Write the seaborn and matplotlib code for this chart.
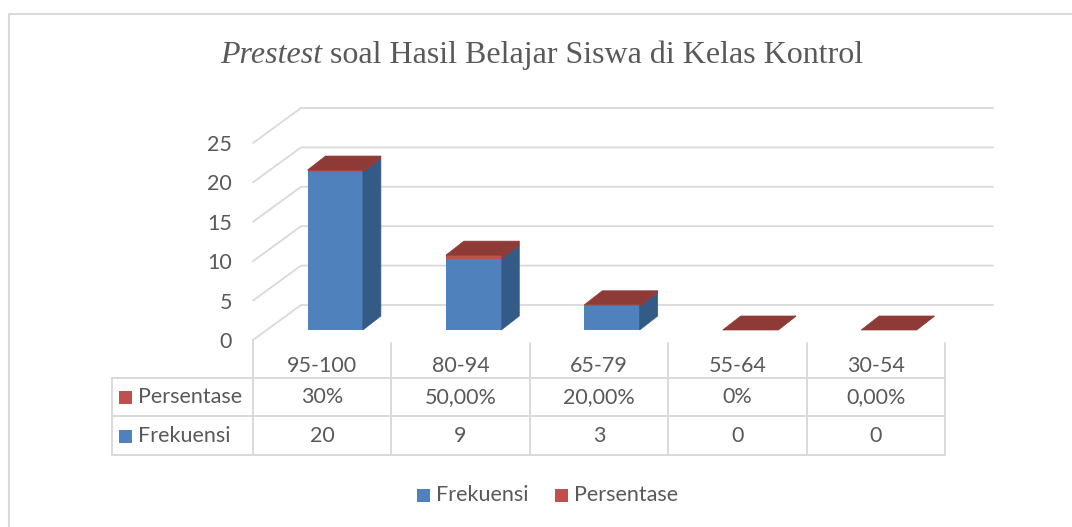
import numpy as np
import pandas as pd
import matplotlib
matplotlib.use("Agg")
import matplotlib.pyplot as plt
import matplotlib.transforms as mtransforms
from matplotlib.patches import Polygon, Rectangle
from matplotlib.lines import Line2D
import seaborn as sns


rentang = ["95-100", "80-94", "65-79", "55-64", "30-54"]
frekuensi = [20, 9, 3, 0, 0]
persentase = [0.30, 0.50, 0.20, 0.0, 0.0]
persentase_label = ["30%", "50,00%", "20,00%", "0%", "0,00%"]
y_ticks = [0, 5, 10, 15, 20, 25]

BLUE = "#4F81BD"
BLUE_SIDE = "#345A86"
RED = "#C0504D"
RED_TOP = "#8E3A37"
GRID = "#D9D9D9"
TXT = "#595959"

W, H, DPI = 1072, 527, 100

sns.set_style("white")
plt.rcParams["font.family"] = ["Lato", "DejaVu Sans"]


def fig_xy(x, y):
    # pixel (from top-left) -> figure fraction
    return x / W, 1 - y / H


fig = plt.figure(figsize=(W / DPI, H / DPI), dpi=DPI)
ax = fig.add_axes([253 / W, 187 / H, (945 - 253) / W, 197 / H])

df = pd.DataFrame({"Rentang": rentang, "Frekuensi": frekuensi,
                   "Total": np.array(frekuensi) + np.array(persentase)})
sns.barplot(data=df, x="Rentang", y="Total", color=RED, saturation=1, width=0.4,
            linewidth=0, ax=ax, zorder=3)
sns.barplot(data=df, x="Rentang", y="Frekuensi", color=BLUE, saturation=1, width=0.4,
            linewidth=0, ax=ax, zorder=3)

fs = 15.5
ax.set_xlim(-0.5, len(rentang) - 0.5)
ax.set_ylim(0, 25)
ax.set_xlabel("")
ax.set_ylabel("")
ax.set_xticks([])
ax.set_yticks(y_ticks)
ax.tick_params(axis="y", length=0, pad=15, labelsize=fs, labelcolor=TXT)
for s in ax.spines.values():
    s.set_visible(False)
ax.set_facecolor("none")

to_fig = fig.transFigure.inverted()

# back wall grid + left wall diagonals (depth offset in px), behind the axes
depth = np.array([48, 35])
for v in y_ticks:
    p0 = ax.transData.transform((-0.5, v))
    p1 = p0 + depth
    p2 = ax.transData.transform((len(rentang) - 0.5, v)) + depth
    pts = to_fig.transform(np.array([p0, p1, p2]))
    fig.add_artist(Line2D(pts[:, 0], pts[:, 1], color=GRID, lw=1.3, zorder=-1))

# shift the bars into the middle of the depth, then add side / top faces
shift = mtransforms.ScaledTranslation(13 / DPI, 10 / DPI, fig.dpi_scale_trans)
bar_tr = ax.transData + shift
n = len(rentang)
reds, blues = ax.patches[:n], ax.patches[n:]
bar_depth = np.array([18, 14])
for r, b in zip(reds, blues):
    r.set_transform(bar_tr)
    b.set_transform(bar_tr)
    r.set_clip_on(False)
    b.set_clip_on(False)
    (x0, y0), (x1, y_top) = bar_tr.transform(r.get_bbox().get_points())
    y_blue = bar_tr.transform(b.get_bbox().get_points())[1][1]
    dx, dy = bar_depth
    faces = []
    if y_blue > y0:
        faces.append(([(x1, y0), (x1, y_blue), (x1 + dx, y_blue + dy), (x1 + dx, y0 + dy)], BLUE_SIDE))
    faces.append(([(x1, y_blue), (x1, y_top), (x1 + dx, y_top + dy), (x1 + dx, y_blue + dy)], RED_TOP))
    faces.append(([(x0, y_top), (x1, y_top), (x1 + dx, y_top + dy), (x0 + dx, y_top + dy)], RED_TOP))
    for poly, col in faces:
        pts = to_fig.transform(np.array(poly))
        fig.add_artist(Polygon(pts, closed=True, facecolor=col, edgecolor=col, lw=0.5, zorder=4))

# data table
col_x = [ax.transData.transform((i - 0.5, 0))[0] for i in range(n + 1)]
row_y = [343, 378, 416, 455]
left_x = 112


def hline(x0, x1, y):
    a, b = fig_xy(x0, y), fig_xy(x1, y)
    fig.add_artist(Line2D([a[0], b[0]], [a[1], b[1]], color=GRID, lw=1.4))


def vline(x, y0, y1):
    a, b = fig_xy(x, y0), fig_xy(x, y1)
    fig.add_artist(Line2D([a[0], b[0]], [a[1], b[1]], color=GRID, lw=1.4))


hline(left_x, col_x[-1], row_y[1])
hline(left_x, col_x[-1], row_y[2])
hline(left_x, col_x[-1], row_y[3])
vline(left_x, row_y[1], row_y[3])
vline(col_x[0], 340, row_y[3])
for cx in col_x[1:]:
    vline(cx, row_y[0], row_y[3])

for i in range(n):
    cx = (col_x[i] + col_x[i + 1]) / 2
    fig.text(*fig_xy(cx, 366), rentang[i], ha="center", va="center", fontsize=fs, color=TXT)
    fig.text(*fig_xy(cx, 397), persentase_label[i], ha="center", va="center", fontsize=fs, color=TXT)
    fig.text(*fig_xy(cx, 436), str(frekuensi[i]), ha="center", va="center", fontsize=fs, color=TXT)

for label, col, yc in [("Persentase", RED, 397), ("Frekuensi", BLUE, 436)]:
    fig.add_artist(Rectangle(fig_xy(119, yc + 6.5), 13 / W, 13 / H, facecolor=col, edgecolor="none"))
    fig.text(*fig_xy(138, yc), label, ha="left", va="center", fontsize=fs, color=TXT)

# bottom legend
for label, col, x in [("Frekuensi", BLUE, 417), ("Persentase", RED, 555)]:
    fig.add_artist(Rectangle(fig_xy(x, 502), 13 / W, 13 / H, facecolor=col, edgecolor="none"))
    fig.text(*fig_xy(x + 19, 495), label, ha="left", va="center", fontsize=fs, color=TXT)

# title: italic first word + regular rest, centred
fig.canvas.draw()
rend = fig.canvas.get_renderer()
t1 = fig.text(0, 0, "Prestest", fontsize=23, family="Liberation Serif", style="italic", color=TXT)
t2 = fig.text(0, 0, " soal Hasil Belajar Siswa di Kelas Kontrol", fontsize=23,
              family="Liberation Serif", color=TXT)
w1 = t1.get_window_extent(rend).width
w2 = t2.get_window_extent(rend).width
start = 542 - (w1 + w2) / 2
t1.set_position(fig_xy(start, 63))
t2.set_position(fig_xy(start + w1, 63))
t1.set_va("baseline")
t2.set_va("baseline")

# outer chart frame (left and top edges visible)
fig.add_artist(Line2D([8.5 / W, 8.5 / W, 1.0], [0.0, 1 - 13.5 / H, 1 - 13.5 / H], color=GRID, lw=1.5))

fig.savefig("out.png", dpi=DPI)
